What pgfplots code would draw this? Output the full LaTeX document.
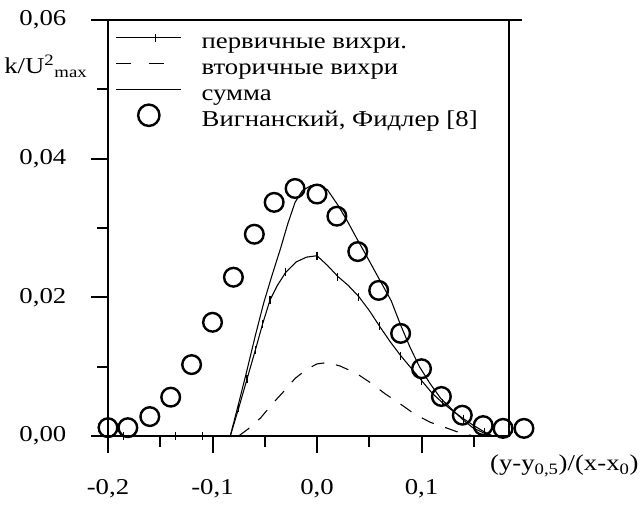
\documentclass[border=0pt]{standalone}
\usepackage{pgfplots}
\pgfplotsset{compat=1.18}
\usepackage{fontspec}
\setmainfont[FakeStretch=1.18]{Liberation Serif}

\newcommand{\lblfont}{\fontsize{17}{20}\selectfont}

\begin{document}
\begin{tikzpicture}
\useasboundingbox (-81pt,-52.5pt) rectangle (400.5pt,327pt);
\begin{axis}[
  at={(0pt,0pt)}, anchor=south west,
  scale only axis, width=300.75pt, height=312pt,
  xmin=-0.2, xmax=0.1837, ymin=0, ymax=0.06,
  clip=false,
  axis line style={line width=1.5pt},
  tick pos=left, tick align=outside,
  major tick length=12.75pt, minor tick length=8pt,
  every tick/.style={black, line width=1.5pt},
  xtick={-0.2,-0.1,0,0.1}, minor xtick={-0.15,-0.05,0.05,0.15},
  xticklabels={{-0,2},{-0,1},{0,0},{0,1}},
  ytick={0,0.02,0.04,0.06}, minor ytick={0.01,0.03,0.05},
  yticklabels={{0,00},{0,02},{0,04},{0,06}},
  scaled ticks=false,
  every tick label/.append style={font=\lblfont},
  xticklabel style={yshift=-16.5pt},
  yticklabel style={xshift=-15pt},
  xlabel={(y-y\textsubscript{0,5})/(x-x\textsubscript{0})},
  xlabel style={at={(axis description cs:1.138,-0.072)}, anchor=center, font=\lblfont},
  ylabel={k/U\textsuperscript{2}\textsubscript{max}},
  ylabel style={rotate=-90, at={(axis description cs:-0.155,0.889)}, anchor=center, font=\lblfont},
  legend cell align=left,
  legend style={at={(axis description cs:0.0175,0.967)}, anchor=north west,
    draw=none, fill=none, inner sep=0pt, font=\lblfont,
    nodes={inner sep=0pt, text height=11pt, text depth=3.5pt},
    row sep=4.9pt, column sep=15pt},
]
% primary vortices
\addplot[black, line width=0.8pt, mark=|, mark size=3pt,
  mark indices={2,3,4,6,7,8,9,10,12,15,17,19,21,23,25,27,29,31},
  legend image code/.code={
    \draw[black, line width=0.8pt] (0pt,4.5pt) -- (49pt,4.5pt);
    \draw[black, line width=0.8pt, overlay] plot[only marks, mark=|, mark size=3pt] coordinates {(11pt,4.5pt) (30pt,4.5pt)};
  }] coordinates {
  (-0.200,0) (-0.185,0) (-0.135,0) (-0.110,0) (-0.083,0)
  (-0.075,0.0040) (-0.067,0.0082) (-0.059,0.0124) (-0.052,0.0162) (-0.045,0.0196)
  (-0.038,0.0217) (-0.030,0.0236) (-0.020,0.0251) (-0.010,0.0258) (0.000,0.0260)
  (0.010,0.0246) (0.020,0.0230) (0.030,0.0217) (0.040,0.0201) (0.050,0.0181)
  (0.060,0.0158) (0.070,0.0136) (0.080,0.0116) (0.090,0.0098) (0.100,0.0080)
  (0.110,0.0062) (0.120,0.0048) (0.130,0.0036) (0.140,0.0025) (0.150,0.0015)
  (0.160,0.0006) (0.168,0)
};
\addlegendentry{первичные вихри.}
% secondary vortices
\addplot[black, line width=0.8pt, dash pattern=on 10pt off 9pt,
  legend image code/.code={
    \draw[black, line width=0.8pt, dash pattern=on 11.25pt off 13.5pt] (0pt,4.5pt) -- (49pt,4.5pt);
  }] coordinates {
  (-0.075,0) (-0.066,0.0010) (-0.054,0.0026) (-0.043,0.0046) (-0.032,0.0064)
  (-0.021,0.0083) (-0.010,0.0096) (0.000,0.0104) (0.010,0.0106) (0.022,0.0101)
  (0.038,0.0090) (0.052,0.0076) (0.065,0.0061) (0.079,0.0047) (0.093,0.0032)
  (0.108,0.0020) (0.125,0.0011) (0.136,0.0005) (0.150,0)
};
\addlegendentry{вторичные вихри}
% total
\addplot[black, line width=0.8pt,
  legend image code/.code={
    \draw[black, line width=0.8pt] (0pt,4.5pt) -- (49pt,4.5pt);
  }] coordinates {
  (-0.083,0) (-0.075,0.0047) (-0.067,0.0095) (-0.059,0.0145) (-0.051,0.0192)
  (-0.043,0.0232) (-0.035,0.0270) (-0.028,0.0306) (-0.021,0.0337) (-0.014,0.0354)
  (-0.006,0.0361) (0.003,0.0362) (0.010,0.0355) (0.020,0.0333) (0.029,0.0310)
  (0.038,0.0285) (0.048,0.0258) (0.060,0.0225) (0.071,0.0195) (0.080,0.0160)
  (0.089,0.0128) (0.098,0.0100) (0.108,0.0076) (0.118,0.0055) (0.130,0.0037)
  (0.140,0.0023) (0.149,0.0012) (0.160,0.0004) (0.168,0)
};
\addlegendentry{сумма}
% measurements
\addplot[black, only marks, mark=o, mark size=7pt, mark options={line width=1.8pt},
  legend image code/.code={
    \path[draw=none] (0pt,4.5pt) -- (49pt,4.5pt);
    \path[draw=none, overlay] plot[only marks, mark=o, mark size=8pt, mark options={draw=black, line width=1.8pt}] coordinates {(24.75pt,4.5pt)};
  }] coordinates {
  (-0.200,0.0012) (-0.181,0.0012) (-0.160,0.0028) (-0.140,0.0056) (-0.120,0.0103)
  (-0.100,0.0164) (-0.080,0.0229) (-0.060,0.0291) (-0.041,0.0337) (-0.021,0.0357)
  (0.000,0.0349) (0.019,0.0317) (0.039,0.0266) (0.059,0.0210) (0.080,0.0148)
  (0.100,0.0097) (0.119,0.0057) (0.139,0.0030) (0.159,0.0015) (0.178,0.0011)
  (0.198,0.0011)
};
\addlegendentry{Вигнанский, Фидлер [8]}
% top frame line runs a little past the right edge
\draw[line width=1.5pt] (rel axis cs:1,1) -- ++(9.75pt,0pt);
\end{axis}
\end{tikzpicture}
\end{document}
